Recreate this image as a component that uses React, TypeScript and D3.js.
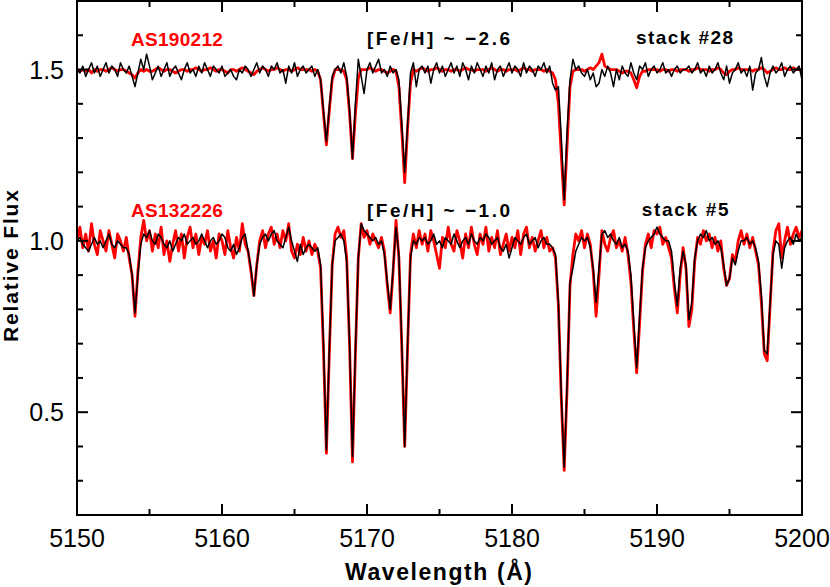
import * as d3 from "d3";

const WAVE_START = 5150;
const WAVE_STEP = 0.2;
const OFFSET_TOP = 0.5;

// AS132226 (red) and stack #5 (black), [Fe/H] ~ -1.0
const lowRed = [
  1.00, 1.04, 0.98, 1.02, 0.97, 1.05, 0.99, 0.96, 1.03, 1.00,
  0.97, 1.03, 0.99, 0.95, 1.02, 1.00, 0.97, 1.01, 0.95, 0.90,
  0.78, 0.91, 1.01, 1.06, 1.00, 1.03, 0.97, 1.02, 0.98, 1.04,
  0.96, 1.00, 0.94, 0.99, 1.03, 0.97, 1.02, 0.95, 1.01, 1.04,
  0.98, 1.02, 0.96, 1.01, 0.99, 1.03, 0.97, 1.00, 0.95, 1.02,
  1.00, 0.96, 1.03, 0.98, 0.95, 1.01, 0.97, 1.05, 0.99, 0.97,
  0.91, 0.84, 0.93, 1.00, 1.03, 0.98, 1.02, 1.04, 0.99, 1.02,
  0.98, 1.03, 1.00, 1.05, 0.97, 0.95, 0.99, 0.96, 1.01, 0.97,
  1.00, 0.96, 0.99, 0.97, 0.92, 0.68, 0.38, 0.67, 0.93, 1.02,
  1.04, 1.01, 1.03, 0.95, 0.69, 0.355, 0.67, 0.95, 1.05, 1.01,
  1.03, 0.99, 1.02, 1.00, 0.98, 1.01, 0.97, 0.87, 0.79, 0.91,
  1.06, 0.95, 0.69, 0.40, 0.69, 0.96, 1.02, 0.98, 1.03, 0.99,
  1.02, 0.97, 1.03, 1.00, 0.96, 0.92, 1.01, 0.98, 1.04, 0.99,
  0.97, 1.03, 1.00, 0.95, 1.02, 0.98, 1.04, 0.99, 0.96, 1.02,
  0.99, 1.04, 0.97, 1.01, 0.98, 1.03, 0.96, 0.99, 1.02, 0.97,
  1.01, 0.98, 1.03, 0.96, 1.02, 1.04, 0.98, 1.01, 0.97, 1.00,
  1.03, 0.98, 1.01, 0.97, 0.98, 0.95, 0.81, 0.54, 0.33, 0.57,
  0.87, 0.96, 1.02, 1.00, 1.03, 0.98, 1.02, 0.99, 0.91, 0.78,
  0.90, 1.03, 0.99, 0.97, 1.01, 1.03, 0.98, 1.00, 0.97, 1.01,
  0.96, 0.88, 0.74, 0.615, 0.76, 0.91, 0.99, 1.02, 0.98, 1.03,
  1.02, 1.04, 0.99, 1.01, 0.98, 0.95, 0.86, 0.79, 0.90, 0.98,
  0.92, 0.75, 0.80, 0.94, 1.01, 0.99, 1.03, 1.00, 1.02, 0.98,
  1.01, 0.97, 1.00, 0.92, 0.87, 0.89, 0.96, 0.94, 1.00, 1.03,
  0.99, 1.02, 0.98, 1.01, 0.97, 0.93, 0.82, 0.67, 0.65, 0.81,
  0.97, 1.03, 1.05, 0.95, 1.00, 1.04, 0.99, 1.02, 1.04, 1.01,
  1.03,
];

const lowBlack = [
  1.00, 1.01, 0.99, 0.98, 0.97, 0.99, 1.01, 0.99, 1.00, 0.98,
  1.00, 1.02, 0.99, 0.98, 1.00, 0.99, 0.98, 0.98, 0.96, 0.90,
  0.79, 0.90, 0.99, 1.02, 1.01, 1.03, 1.00, 0.99, 1.02, 1.01,
  0.99, 0.98, 1.00, 0.97, 0.99, 1.01, 1.00, 1.02, 0.99, 1.00,
  1.01, 0.99, 1.00, 1.02, 1.00, 0.98, 1.00, 1.01, 0.99, 1.00,
  1.02, 1.01, 0.98, 0.97, 0.99, 0.96, 0.98, 1.01, 1.02, 0.97,
  0.92, 0.84, 0.93, 0.99, 1.01, 1.02, 1.00, 1.02, 1.03, 1.00,
  0.99, 0.98, 1.01, 1.04, 1.00, 0.97, 0.94, 0.99, 0.96, 0.98,
  0.99, 0.98, 0.97, 0.98, 0.93, 0.70, 0.39, 0.68, 0.93, 1.00,
  1.01, 1.02, 1.00, 0.94, 0.70, 0.37, 0.68, 0.95, 1.05, 1.03,
  1.02, 1.01, 1.00, 1.01, 0.99, 1.00, 0.96, 0.88, 0.80, 0.92,
  1.04, 0.96, 0.70, 0.40, 0.70, 0.95, 1.00, 0.99, 1.01, 1.00,
  1.01, 0.99, 1.00, 1.02, 0.99, 1.00, 0.98, 1.01, 1.00, 0.99,
  1.02, 1.00, 0.98, 1.00, 1.01, 0.99, 1.02, 1.00, 0.99, 1.01,
  1.00, 1.02, 1.01, 0.99, 1.00, 1.01, 0.98, 0.97, 0.99, 0.95,
  0.98, 1.01, 1.00, 0.99, 1.01, 1.02, 0.99, 1.00, 1.01, 0.98,
  1.00, 1.01, 0.99, 0.99, 0.98, 0.96, 0.82, 0.55, 0.34, 0.58,
  0.88, 0.92, 0.97, 0.99, 1.01, 1.00, 1.01, 0.98, 0.92, 0.82,
  0.92, 1.02, 1.03, 1.01, 1.02, 1.00, 0.99, 1.01, 0.98, 0.99,
  0.97, 0.90, 0.76, 0.63, 0.78, 0.92, 0.98, 1.00, 1.01, 1.02,
  1.04, 1.02, 1.01, 1.00, 1.00, 0.97, 0.88, 0.81, 0.92, 0.97,
  0.93, 0.77, 0.82, 0.95, 1.00, 1.02, 1.01, 1.03, 1.00, 1.01,
  0.99, 1.00, 0.98, 0.93, 0.87, 0.89, 0.95, 0.93, 0.97, 1.00,
  1.00, 1.01, 0.99, 1.00, 0.98, 0.94, 0.84, 0.68, 0.67, 0.82,
  0.96, 1.00, 0.99, 0.92, 0.98, 1.00, 1.01, 0.99, 1.02, 1.00,
  1.01,
];

// AS190212 (red) and stack #28 (black), [Fe/H] ~ -2.6, shifted up by 0.5
const upRed = [
  1.00, 0.995, 1.00, 0.995, 1.00, 0.99, 1.00, 0.995, 1.00, 1.00,
  0.995, 1.00, 1.005, 1.00, 0.995, 1.00, 1.00, 0.995, 0.99, 0.985,
  0.975, 0.99, 1.00, 0.995, 1.00, 0.995, 0.995, 1.00, 1.005, 1.00,
  0.995, 1.00, 1.00, 0.995, 0.99, 0.995, 1.00, 1.00, 0.995, 1.00,
  1.00, 1.005, 1.00, 0.995, 1.00, 1.00, 1.005, 1.00, 0.995, 1.00,
  1.00, 0.995, 0.99, 1.00, 1.00, 0.995, 1.00, 1.005, 1.00, 0.995,
  0.99, 0.985, 0.995, 1.00, 1.005, 1.00, 0.995, 1.00, 1.00, 1.005,
  1.00, 0.995, 1.00, 1.00, 0.995, 1.00, 1.005, 1.00, 1.00, 1.00,
  1.00, 0.995, 1.00, 0.995, 0.97, 0.87, 0.78, 0.88, 0.97, 1.00,
  1.00, 1.00, 0.995, 0.97, 0.87, 0.74, 0.87, 0.975, 1.00, 1.00,
  1.00, 1.005, 1.00, 0.995, 1.00, 1.00, 0.995, 0.99, 0.995, 1.00,
  0.995, 0.95, 0.82, 0.67, 0.83, 0.96, 1.00, 0.995, 1.00, 1.005,
  1.00, 0.995, 1.00, 1.00, 1.005, 1.00, 0.995, 1.00, 1.00, 0.995,
  1.00, 1.00, 0.995, 1.00, 1.005, 1.00, 1.00, 0.995, 1.00, 1.00,
  1.00, 0.995, 1.00, 1.005, 1.00, 0.995, 1.00, 1.00, 0.995, 1.00,
  1.00, 1.00, 0.995, 1.00, 1.005, 1.00, 1.00, 0.995, 1.00, 1.00,
  1.00, 0.995, 1.00, 0.995, 0.99, 0.97, 0.90, 0.75, 0.605, 0.78,
  0.95, 0.995, 1.00, 1.00, 1.00, 0.995, 1.00, 1.005, 1.00, 1.01,
  1.02, 1.045, 1.01, 1.005, 1.00, 1.00, 1.00, 0.995, 0.99, 0.995,
  0.995, 0.99, 0.97, 0.947, 0.98, 0.995, 0.995, 1.00, 1.00, 1.00,
  1.00, 0.995, 1.00, 1.00, 0.995, 1.00, 1.00, 0.995, 1.00, 1.00,
  1.00, 0.995, 1.00, 1.00, 1.005, 1.00, 1.00, 1.00, 0.995, 1.00,
  1.00, 1.005, 1.00, 0.99, 0.985, 0.995, 1.00, 1.00, 1.005, 1.00,
  1.00, 1.00, 1.00, 0.995, 1.00, 1.00, 1.005, 1.00, 0.99, 0.995,
  1.00, 1.005, 1.00, 1.00, 1.005, 1.00, 1.00, 1.005, 1.00, 1.00,
  1.00,
];

const upBlack = [
  1.00, 0.99, 1.01, 0.98, 1.00, 1.02, 0.99, 1.01, 0.98, 1.00,
  1.02, 0.99, 1.01, 1.00, 0.98, 1.02, 1.00, 0.99, 1.01, 0.98,
  0.95, 0.99, 1.03, 1.00, 1.045, 1.01, 0.97, 0.99, 1.01, 0.98,
  1.00, 1.02, 0.98, 1.00, 1.01, 0.99, 0.97, 1.00, 1.02, 0.99,
  1.00, 0.98, 1.01, 0.99, 1.02, 1.00, 0.98, 1.01, 1.00, 0.99,
  1.01, 0.98, 0.99, 1.00, 0.98, 0.97, 1.00, 0.99, 1.01, 1.00,
  0.98, 1.00, 1.02, 0.99, 1.01, 1.00, 0.98, 1.01, 1.00, 1.02,
  0.99, 1.00, 0.96, 1.01, 0.99, 1.02, 0.98, 1.00, 1.01, 0.99,
  1.00, 1.01, 0.98, 1.00, 0.97, 0.88, 0.79, 0.89, 0.98, 1.00,
  1.01, 0.99, 1.02, 0.98, 0.88, 0.74, 0.90, 1.03, 0.98, 0.93,
  1.00, 1.02, 0.99, 1.01, 1.03, 0.99, 1.00, 0.98, 1.01, 0.99,
  1.00, 0.97, 0.84, 0.70, 0.84, 0.99, 1.02, 0.95, 1.00, 1.01,
  0.99, 1.01, 0.96, 1.00, 1.02, 0.99, 1.01, 0.98, 1.00, 1.02,
  0.99, 1.01, 0.98, 1.02, 1.00, 0.97, 1.01, 0.99, 1.02, 1.00,
  0.98, 1.01, 0.99, 1.02, 0.97, 1.00, 1.01, 0.98, 1.00, 1.02,
  0.99, 1.01, 1.00, 0.98, 1.02, 0.99, 1.01, 1.00, 0.98, 1.01,
  1.00, 1.02, 0.99, 1.01, 0.96, 0.94, 0.95, 0.80, 0.62, 0.82,
  0.97, 1.03, 1.00, 1.01, 0.99, 0.98, 1.00, 0.97, 0.99, 0.95,
  0.96, 1.00, 0.98, 1.01, 0.99, 0.95, 1.00, 0.97, 1.01, 0.99,
  0.98, 1.02, 0.99, 0.97, 1.01, 1.00, 1.02, 0.98, 1.00, 1.01,
  0.99, 1.00, 1.02, 0.99, 1.00, 0.98, 1.00, 1.01, 0.99, 1.00,
  1.00, 1.01, 0.99, 1.00, 1.02, 0.99, 1.00, 0.98, 1.01, 0.99,
  1.00, 1.02, 0.99, 0.97, 1.01, 0.96, 0.99, 1.00, 1.02, 0.99,
  1.00, 0.98, 1.01, 0.94, 0.99, 1.00, 1.035, 0.98, 0.95, 0.99,
  1.01, 0.99, 1.00, 1.02, 0.98, 1.00, 1.01, 0.99, 1.00, 1.01,
  0.97,
];

const xMajorTicks = [5150, 5160, 5170, 5180, 5190, 5200];
const xMinorTicks = [5155, 5165, 5175, 5185, 5195];
const yMajorTicks = [0.5, 1.0, 1.5];
const yMinorTicks = [0.3, 0.4, 0.6, 0.7, 0.8, 0.9, 1.1, 1.2, 1.3, 1.4, 1.6];

const W = 830;
const H = 587;
const left = 77, right = 802, top = 1, bottom = 515;

export default function App() {
  const x = d3.scaleLinear().domain([5150, 5200]).range([left, right]);
  const y = d3.scaleLinear().domain([0.2, 1.7]).range([bottom, top]);

  const mkLine = (off: number) =>
    d3
      .line<number>()
      .x((_, i) => x(WAVE_START + i * WAVE_STEP))
      .y((d) => y(d + off));

  const major = 11;
  const minor = 6;

  const sans = "'Liberation Sans', Arial, sans-serif";

  return (
    <svg
      width={W}
      height={H}
      style={{ position: "absolute", left: 0, top: 0, background: "#fff" }}
    >
      <defs>
        <clipPath id="plot">
          <rect x={left} y={top} width={right - left} height={bottom - top} />
        </clipPath>
      </defs>
      <g clipPath="url(#plot)" fill="none" strokeLinejoin="round">
        <path d={mkLine(0)(lowRed) || ""} stroke="#ff0000" strokeWidth={2.8} />
        <path d={mkLine(0)(lowBlack) || ""} stroke="#000" strokeWidth={1.5} />
        <path d={mkLine(OFFSET_TOP)(upRed) || ""} stroke="#ff0000" strokeWidth={2.8} />
        <path d={mkLine(OFFSET_TOP)(upBlack) || ""} stroke="#000" strokeWidth={1.5} />
      </g>

      {/* frame */}
      <rect
        x={left}
        y={top}
        width={right - left}
        height={bottom - top}
        fill="none"
        stroke="#000"
        strokeWidth={2}
      />

      {/* x ticks, bottom and top */}
      <g stroke="#000" strokeWidth={2}>
        {xMajorTicks.map((t) => (
          <g key={"xM" + t}>
            <line x1={x(t)} x2={x(t)} y1={bottom} y2={bottom - major} />
            <line x1={x(t)} x2={x(t)} y1={top} y2={top + major} />
          </g>
        ))}
        {xMinorTicks.map((t) => (
          <g key={"xm" + t}>
            <line x1={x(t)} x2={x(t)} y1={bottom} y2={bottom - minor} />
            <line x1={x(t)} x2={x(t)} y1={top} y2={top + minor} />
          </g>
        ))}
        {yMajorTicks.map((t) => (
          <g key={"yM" + t}>
            <line x1={left} x2={left + major} y1={y(t)} y2={y(t)} />
            <line x1={right} x2={right - major} y1={y(t)} y2={y(t)} />
          </g>
        ))}
        {yMinorTicks.map((t) => (
          <g key={"ym" + t}>
            <line x1={left} x2={left + minor} y1={y(t)} y2={y(t)} />
            <line x1={right} x2={right - minor} y1={y(t)} y2={y(t)} />
          </g>
        ))}
      </g>

      {/* tick labels */}
      <g fontFamily={sans} fontSize={25} fill="#000">
        {xMajorTicks.map((t) => (
          <text key={"xl" + t} x={x(t)} y={547} textAnchor="middle">
            {t}
          </text>
        ))}
        {yMajorTicks.map((t) => (
          <text key={"yl" + t} x={64} y={y(t) + 9} textAnchor="end">
            {d3.format(".1f")(t)}
          </text>
        ))}
      </g>

      {/* axis titles */}
      <text
        x={438.5}
        y={580}
        textAnchor="middle"
        fontFamily={sans}
        fontWeight="bold"
        fontSize={23}
        textLength={187}
        lengthAdjust="spacing"
      >
        Wavelength (Å)
      </text>
      <text
        transform="translate(18,266) rotate(-90)"
        textAnchor="middle"
        fontFamily={sans}
        fontWeight="bold"
        fontSize={21}
        textLength={152}
        lengthAdjust="spacing"
      >
        Relative Flux
      </text>

      {/* annotations */}
      <g fontFamily={sans} fontWeight="bold" fontSize={19}>
        <text x={x(5153.72)} y={y(1.57)} fill="#ff0000" textLength={92} lengthAdjust="spacing">
          AS190212
        </text>
        <text x={x(5170.0)} y={y(1.572)} textLength={143} lengthAdjust="spacing">
          [Fe/H] ~ −2.6
        </text>
        <text x={x(5188.55)} y={y(1.575)} textLength={97} lengthAdjust="spacing">
          stack #28
        </text>
        <text x={x(5153.72)} y={y(1.0705)} fill="#ff0000" textLength={92} lengthAdjust="spacing">
          AS132226
        </text>
        <text x={x(5170.0)} y={y(1.0697)} textLength={143} lengthAdjust="spacing">
          [Fe/H] ~ −1.0
        </text>
        <text x={x(5188.94)} y={y(1.0726)} textLength={87} lengthAdjust="spacing">
          stack #5
        </text>
      </g>
    </svg>
  );
}
